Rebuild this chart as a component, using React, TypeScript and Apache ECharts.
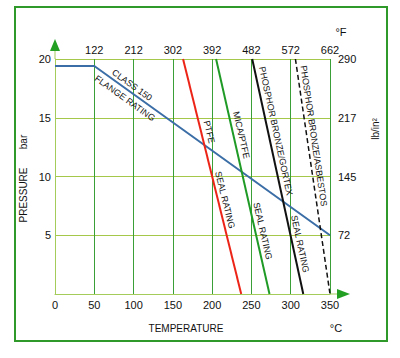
import React, { useEffect, useRef } from "react";
import * as echarts from "echarts";

// ---- data ----
const fahrenheitLabels = ["122", "212", "302", "392", "482", "572", "662"];
const psiLabels = ["72", "145", "217", "290"];
const barLabels = ["5", "10", "15", "20"];

const flangeTemp = [0, 50, 350];
const flangeBar = [19.4, 19.4, 5];
const ptfeTemp = [163, 237];
const ptfeBar = [20, 0];
const micaTemp = [205, 273];
const micaBar = [20, 0];
const gortexTemp = [251, 316];
const gortexBar = [20, 0];
const asbestosTemp = [306, 350];
const asbestosBar = [20, 0];

const FONT = "Liberation Sans, Arial, sans-serif";
const GRID = { left: 55, top: 59, width: 275, height: 235 };

function pairs(xs: number[], ys: number[]) {
  return xs.map((x, i) => [x, ys[i]]);
}
function tempAtBar(xs: number[], ys: number[], bar: number) {
  const t = (bar - ys[0]) / (ys[1] - ys[0]);
  return xs[0] + t * (xs[1] - xs[0]);
}
function barAtTemp(xs: number[], ys: number[], temp: number) {
  for (let i = 0; i < xs.length - 1; i++) {
    if (temp >= xs[i] && temp <= xs[i + 1]) {
      const t = (temp - xs[i]) / (xs[i + 1] - xs[i]);
      return ys[i] + t * (ys[i + 1] - ys[i]);
    }
  }
  return ys[ys.length - 1];
}

export default function App() {
  const ref = useRef<HTMLDivElement>(null);
  useEffect(() => {
    if (!ref.current) return;
    const chart = echarts.init(ref.current, undefined, { renderer: "svg" });
    const hColor = "#a6c84a";
    const vColor = "#3a9f36";
    const axisColor = "#a3cc5a";
    const option: any = {
      animation: false,
      backgroundColor: "#ffffff",
      grid: { ...GRID, containLabel: false },
      xAxis: [
        {
          type: "value",
          min: 0,
          max: 350,
          interval: 50,
          position: "bottom",
          axisLine: { show: true, lineStyle: { color: axisColor, width: 1 } },
          axisTick: { show: false },
          axisLabel: { color: "#111", fontSize: 11, fontFamily: FONT, margin: 5 },
          splitLine: { show: true, showMinLine: false, lineStyle: { color: vColor, width: 1 } },
        },
        {
          type: "value",
          min: 0,
          max: 350,
          interval: 50,
          position: "top",
          axisLine: { show: false },
          axisTick: { show: false },
          axisLabel: {
            color: "#111",
            fontSize: 11,
            fontFamily: FONT,
            margin: 4,
            formatter: (v: number) => (v === 0 ? "" : fahrenheitLabels[v / 50 - 1] || ""),
          },
          splitLine: { show: false },
        },
      ],
      yAxis: [
        {
          type: "value",
          min: 0,
          max: 20,
          interval: 5,
          position: "left",
          axisLine: { show: true, lineStyle: { color: axisColor, width: 1 } },
          axisTick: { show: false },
          axisLabel: {
            color: "#111",
            fontSize: 11,
            fontFamily: FONT,
            margin: 4,
            formatter: (v: number) => (v === 0 ? "" : barLabels[v / 5 - 1] || ""),
          },
          splitLine: { show: true, showMinLine: false, lineStyle: { color: hColor, width: 1 } },
        },
        {
          type: "value",
          min: 0,
          max: 20,
          interval: 5,
          position: "right",
          axisLine: { show: false },
          axisTick: { show: false },
          axisLabel: {
            color: "#111",
            fontSize: 11,
            fontFamily: FONT,
            margin: 8,
            formatter: (v: number) => (v === 0 ? "" : psiLabels[v / 5 - 1] || ""),
          },
          splitLine: { show: false },
        },
      ],
      series: [
        {
          type: "line",
          name: "flange",
          data: pairs(flangeTemp, flangeBar),
          showSymbol: false,
          lineStyle: { color: "#3b6ea6", width: 2 },
        },
        {
          type: "line",
          name: "ptfe",
          data: pairs(ptfeTemp, ptfeBar),
          showSymbol: false,
          lineStyle: { color: "#ec2418", width: 2 },
        },
        {
          type: "line",
          name: "mica",
          data: pairs(micaTemp, micaBar),
          showSymbol: false,
          lineStyle: { color: "#1f9a26", width: 2 },
        },
        {
          type: "line",
          name: "gortex",
          data: pairs(gortexTemp, gortexBar),
          showSymbol: false,
          lineStyle: { color: "#111", width: 2 },
        },
        {
          type: "line",
          name: "asbestos",
          data: pairs(asbestosTemp, asbestosBar),
          showSymbol: false,
          lineStyle: { color: "#111", width: 1.5, type: [5, 3] },
        },
      ],
    };
    chart.setOption(option);

    const toPx = (t: number, b: number) =>
      chart.convertToPixel({ gridIndex: 0 }, [t, b]) as number[];

    const rotOf = (xs: number[], ys: number[]) => {
      const a = toPx(xs[0], ys[0]);
      const b = toPx(xs[xs.length - 1], ys[ys.length - 1]);
      return -Math.atan2(b[1] - a[1], b[0] - a[0]);
    };

    const sealLabel = (text: string, xs: number[], ys: number[], bar: number, dx: number) => {
      const p = toPx(tempAtBar(xs, ys, bar), bar);
      return {
        type: "text",
        x: p[0] + dx,
        y: p[1],
        rotation: rotOf(xs, ys),
        style: {
          text,
          fill: "#111",
          fontSize: 9,
          fontFamily: FONT,
          align: "center",
          verticalAlign: "middle",
        },
        z: 10,
      };
    };
    const flangeRot = rotOf([50, 350], [flangeBar[1], flangeBar[2]]);
    const flangeLabel = (text: string, temp: number, dy: number) => {
      const p = toPx(temp, barAtTemp(flangeTemp, flangeBar, temp));
      return {
        type: "text",
        x: p[0],
        y: p[1] + dy,
        rotation: flangeRot,
        style: {
          text,
          fill: "#111",
          fontSize: 9,
          fontFamily: FONT,
          align: "center",
          verticalAlign: "middle",
        },
        z: 10,
      };
    };

    const gl = GRID.left;
    const gt = GRID.top;
    const gb = GRID.top + GRID.height;
    const gr = GRID.left + GRID.width;
    const arrowColor = "#23a023";
    const plain = (text: string, x: number, y: number, size: number, rotation = 0) => ({
      type: "text",
      x,
      y,
      rotation,
      style: {
        text,
        fill: "#111",
        fontSize: size,
        fontFamily: FONT,
        align: "center",
        verticalAlign: "middle",
      },
    });

    chart.setOption({
      graphic: [
        {
          type: "rect",
          shape: { x: 15, y: 7, width: 372, height: 334 },
          style: { fill: "none", stroke: "#2f9a2a", lineWidth: 2 },
          silent: true,
        },
        { type: "line", shape: { x1: gl, y1: gt, x2: gl, y2: gt - 9 }, style: { stroke: axisColor, lineWidth: 1 } },
        {
          type: "polygon",
          shape: { points: [[gl, gt - 20], [gl - 5, gt - 8], [gl + 5, gt - 8]] },
          style: { fill: arrowColor },
        },
        { type: "line", shape: { x1: gr, y1: gb, x2: gr + 8, y2: gb }, style: { stroke: axisColor, lineWidth: 1 } },
        {
          type: "polygon",
          shape: { points: [[gr + 20, gb], [gr + 7, gb - 5], [gr + 7, gb + 5]] },
          style: { fill: arrowColor },
        },
        plain("TEMPERATURE", 186, 328, 10),
        plain("°C", 336, 328, 11),
        plain("°F", 341, 32, 11),
        plain("PRESSURE", 23, 195, 10, Math.PI / 2),
        plain("bar", 23, 142, 10, Math.PI / 2),
        plain("lb/in²", 375, 129, 10, Math.PI / 2),
        flangeLabel("CLASS 150", 98, -8),
        flangeLabel("FLANGE RATING", 89, 10.3),
        sealLabel("PTFE", ptfeTemp, ptfeBar, 13.79, 8),
        sealLabel("SEAL RATING", ptfeTemp, ptfeBar, 8, 7),
        sealLabel("MICA/PTFE", micaTemp, micaBar, 13.53, 8),
        sealLabel("SEAL RATING", micaTemp, micaBar, 5.36, 7.5),
        sealLabel("PHOSPHOR BRONZE/GORTEX", gortexTemp, gortexBar, 13.87, 8),
        sealLabel("SEAL RATING", gortexTemp, gortexBar, 4.26, 7.6),
        sealLabel("PHOSPHOR BRONZE/ASBESTOS", asbestosTemp, asbestosBar, 13.45, 7),
      ],
    });

    return () => chart.dispose();
  }, []);
  return (
    <div
      ref={ref}
      style={{ position: "absolute", left: 0, top: 0, width: 400, height: 358 }}
    />
  );
}
